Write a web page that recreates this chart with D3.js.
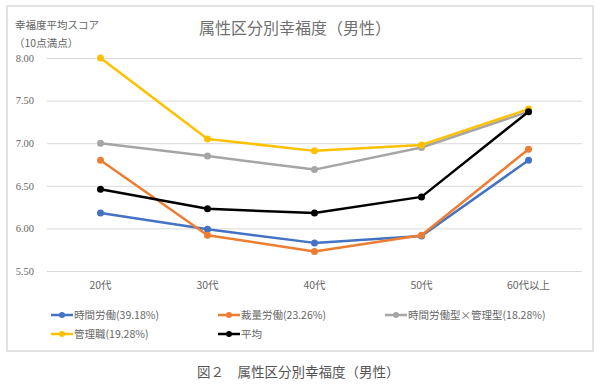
<!DOCTYPE html>
<html>
<head>
<meta charset="utf-8">
<script src="https://cdn.jsdelivr.net/npm/d3@7"></script>
<style>
  body { margin: 0; background: #fff; }
  text { font-family: "Noto Sans CJK JP", "Noto Sans", sans-serif; }
</style>
</head>
<body>
<div id="chart"></div>
<script>
// Chart data
const categories = ["20代", "30代", "40代", "50代", "60代以上"]
const seriesNames = ["時間労働(39.18%)", "裁量労働(23.26%)", "時間労働型×管理型(18.28%)", "管理職(19.28%)", "平均"]
const seriesColours = ["#4472C4", "#ED7D31", "#A5A5A5", "#FFC000", "#000000"]
const timeWork   = [6.18, 5.99, 5.83, 5.91, 6.80]
const discretion = [6.80, 5.92, 5.73, 5.92, 6.93]
const mixed      = [7.00, 6.85, 6.69, 6.95, 7.37]
const manager    = [8.00, 7.05, 6.91, 6.98, 7.40]
const average    = [6.46, 6.23, 6.18, 6.37, 7.37]
const yTicks = [5.5, 6.0, 6.5, 7.0, 7.5, 8.0]

const series = [timeWork, discretion, mixed, manager, average].map((v, i) => ({
    name: seriesNames[i], colour: seriesColours[i], values: v
}))

// Chart parameters
const WIDTH = 600
const HEIGHT = 387
const PLOT = {LEFT: 47, RIGHT: 582, TOP: 58, BOTTOM: 271}

let svg = d3.select("#chart").append("svg")
    .attr("width", WIDTH)
    .attr("height", HEIGHT)

// outer frame
svg.append("rect")
    .attr("x", 7).attr("y", 6)
    .attr("width", 586).attr("height", 345)
    .attr("fill", "none")
    .attr("stroke", "#d9d9d9")
    .attr("stroke-width", 1.5)

let xScale = d3.scaleBand()
    .domain(categories)
    .range([PLOT.LEFT, PLOT.RIGHT])

let yScale = d3.scaleLinear()
    .domain([5.5, 8.0])
    .range([PLOT.BOTTOM, PLOT.TOP])

// y axis: gridlines + labels
let yAxis = svg.append("g")
    .attr("transform", "translate(" + PLOT.LEFT + ",0)")
    .call(d3.axisLeft(yScale)
        .tickValues(yTicks)
        .tickFormat(d3.format(".2f"))
        .tickSize(-(PLOT.RIGHT - PLOT.LEFT))
        .tickPadding(13))
yAxis.select(".domain").remove()
yAxis.selectAll("line").attr("stroke", "#d9d9d9")
yAxis.selectAll("text")
    .attr("fill", "#666")
    .style("font-family", "'Liberation Serif', serif")
    .style("font-size", "10.5px")

// x axis labels
let xAxis = svg.append("g")
    .attr("transform", "translate(0," + PLOT.BOTTOM + ")")
    .call(d3.axisBottom(xScale).tickSize(0).tickPadding(11))
xAxis.select(".domain").remove()
xAxis.selectAll("text")
    .attr("fill", "#666")
    .style("font-size", "10.5px")

// lines
let linepoints = d3.line()
    .x((d, i) => xScale(categories[i]) + xScale.bandwidth() / 2)
    .y(d => yScale(d))

let groups = svg.selectAll(".series")
    .data(series)
    .join("g")
    .attr("class", "series")

groups.append("path")
    .attr("d", d => linepoints(d.values))
    .attr("fill", "none")
    .attr("stroke", d => d.colour)
    .attr("stroke-width", 2.5)
    .attr("stroke-linejoin", "round")

groups.selectAll("circle")
    .data(d => d.values.map((v, i) => ({v: v, i: i, colour: d.colour})))
    .join("circle")
    .attr("cx", d => xScale(categories[d.i]) + xScale.bandwidth() / 2)
    .attr("cy", d => yScale(d.v))
    .attr("r", 3.5)
    .attr("fill", d => d.colour)

// titles
svg.append("text")
    .attr("x", 295).attr("y", 34)
    .attr("text-anchor", "middle")
    .attr("fill", "#707070")
    .style("font-size", "16px")
    .text("属性区分別幸福度（男性）")

svg.append("text")
    .attr("x", 15).attr("y", 29)
    .attr("fill", "#666")
    .style("font-size", "10.5px")
    .text("幸福度平均スコア")

svg.append("text")
    .attr("x", 14).attr("y", 47)
    .attr("fill", "#666")
    .style("font-size", "10.5px")
    .text("（10点満点）")

// legend
const legendPos = [[51, 315], [218, 315], [385, 315], [51, 334], [218, 334]]
let legend = svg.selectAll(".legend")
    .data(series)
    .join("g")
    .attr("class", "legend")
    .attr("transform", (d, i) => "translate(" + legendPos[i][0] + "," + legendPos[i][1] + ")")

legend.append("line")
    .attr("x1", 0).attr("x2", 22)
    .attr("stroke", d => d.colour)
    .attr("stroke-width", 2.5)
legend.append("circle")
    .attr("cx", 11).attr("r", 3)
    .attr("fill", d => d.colour)
legend.append("text")
    .attr("x", 23).attr("y", 4)
    .attr("fill", "#666")
    .style("font-size", "10.5px")
    .text(d => d.name)

// caption
svg.append("text")
    .attr("x", 197).attr("y", 377)
    .attr("fill", "#555")
    .style("font-size", "13.5px")
    .text("図２　属性区分別幸福度（男性）")
</script>
</body>
</html>
